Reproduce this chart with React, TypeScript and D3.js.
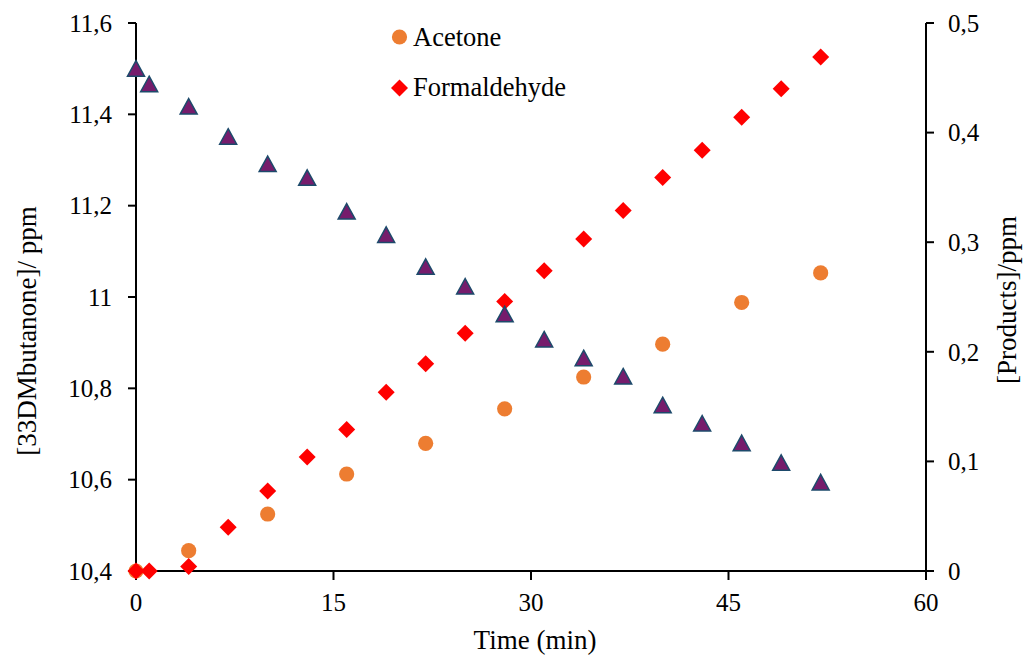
import React from "react";
import * as d3 from "d3";

const times = [0, 1, 4, 7, 10, 13, 16, 19, 22, 25, 28, 31, 34, 37, 40, 43, 46, 49, 52];
const butanone = [11.5, 11.466, 11.417, 11.351, 11.291, 11.261, 11.187, 11.136, 11.066, 11.023, 10.962, 10.907, 10.866, 10.826, 10.763, 10.723, 10.68, 10.637, 10.594];
const formaldehyde = [0, 0, 0.004, 0.04, 0.073, 0.104, 0.129, 0.163, 0.189, 0.217, 0.246, 0.274, 0.303, 0.329, 0.359, 0.384, 0.414, 0.44, 0.469];
const acetoneTimes = [0, 4, 10, 16, 22, 28, 34, 40, 46, 52];
const acetone = [0, 0.0185, 0.052, 0.0885, 0.1165, 0.148, 0.177, 0.207, 0.245, 0.272];

const xTicks = [0, 15, 30, 45, 60];
const leftTicks = [10.4, 10.6, 10.8, 11.0, 11.2, 11.4, 11.6];
const rightTicks = [0, 0.1, 0.2, 0.3, 0.4, 0.5];

const fmt = (v: number) => {
  const s = String(Math.round(v * 10) / 10);
  return s.replace(".", ",");
};

const FONT = "'Liberation Serif', 'Times New Roman', serif";

export default function App() {
  const W = 1024, H = 657;
  const x = d3.scaleLinear().domain([0, 60]).range([136, 926]);
  const yL = d3.scaleLinear().domain([10.4, 11.6]).range([571, 23]);
  const yR = d3.scaleLinear().domain([0, 0.5]).range([571, 23]);

  const circlePath = d3.symbol().type(d3.symbolCircle).size(Math.PI * 7.6 * 7.6)()!;
  const diamondPath = "M0,-8.5L8.5,0L0,8.5L-8.5,0Z";
  const trianglePath = "M0,-8L8.5,7.5L-8.5,7.5Z";

  const left = x.range()[0], right = x.range()[1];
  const top = yL.range()[1], bottom = yL.range()[0];

  return (
    <svg width={W} height={H} style={{ position: "absolute", left: 0, top: 0, background: "#fff" }} fontFamily={FONT}>
      <rect width={W} height={H} fill="#fff" />
      {/* axes */}
      <g stroke="#000" strokeWidth={2} fill="none">
        <line x1={left} y1={top} x2={left} y2={bottom} />
        <line x1={right} y1={top} x2={right} y2={bottom} />
        <line x1={left} y1={bottom} x2={right} y2={bottom} />
        {leftTicks.map((t) => (
          <line key={"lt" + t} x1={left - 8} x2={left} y1={yL(t)} y2={yL(t)} />
        ))}
        {rightTicks.map((t) => (
          <line key={"rt" + t} x1={right} x2={right + 8} y1={yR(t)} y2={yR(t)} />
        ))}
        {xTicks.map((t) => (
          <line key={"xt" + t} x1={x(t)} x2={x(t)} y1={bottom} y2={bottom + 9} />
        ))}
      </g>
      <g fontSize={25} fill="#000">
        {leftTicks.map((t) => (
          <text key={"ll" + t} x={left - 24} y={yL(t)} dy="0.35em" textAnchor="end">{fmt(t)}</text>
        ))}
        {rightTicks.map((t) => (
          <text key={"rl" + t} x={right + 22} y={yR(t)} dy="0.35em" textAnchor="start">{fmt(t)}</text>
        ))}
        {xTicks.map((t) => (
          <text key={"xl" + t} x={x(t)} y={611} textAnchor="middle">{fmt(t)}</text>
        ))}
      </g>
      <g fontSize={27} fill="#000">
        <text x={535} y={649} textAnchor="middle">Time (min)</text>
        <text transform={`translate(36,331) rotate(-90)`} textAnchor="middle">[33DMbutanone]/ ppm</text>
        <text transform={`translate(1016,300) rotate(-90)`} textAnchor="middle">[Products]/ppm</text>
      </g>
      {/* series */}
      <g fill="#ED7D31">
        {acetoneTimes.map((t, i) => (
          <path key={"a" + i} d={circlePath} transform={`translate(${x(t)},${yR(acetone[i])})`} />
        ))}
      </g>
      <g fill="#FF0000">
        {times.map((t, i) => (
          <path key={"f" + i} d={diamondPath} transform={`translate(${x(t)},${yR(formaldehyde[i])})`} />
        ))}
      </g>
      <g fill="#761C6C" stroke="#1D4A6B" strokeWidth={1.5}>
        {times.map((t, i) => (
          <path key={"b" + i} d={trianglePath} transform={`translate(${x(t)},${yL(butanone[i])})`} />
        ))}
      </g>
      {/* legend */}
      <g fontSize={26.5} fill="#000">
        <path d={circlePath} fill="#ED7D31" transform="translate(399.5,37)" />
        <text x={413} y={46}>Acetone</text>
        <path d={diamondPath} fill="#FF0000" transform="translate(399.5,88)" />
        <text x={413} y={96}>Formaldehyde</text>
      </g>
    </svg>
  );
}
